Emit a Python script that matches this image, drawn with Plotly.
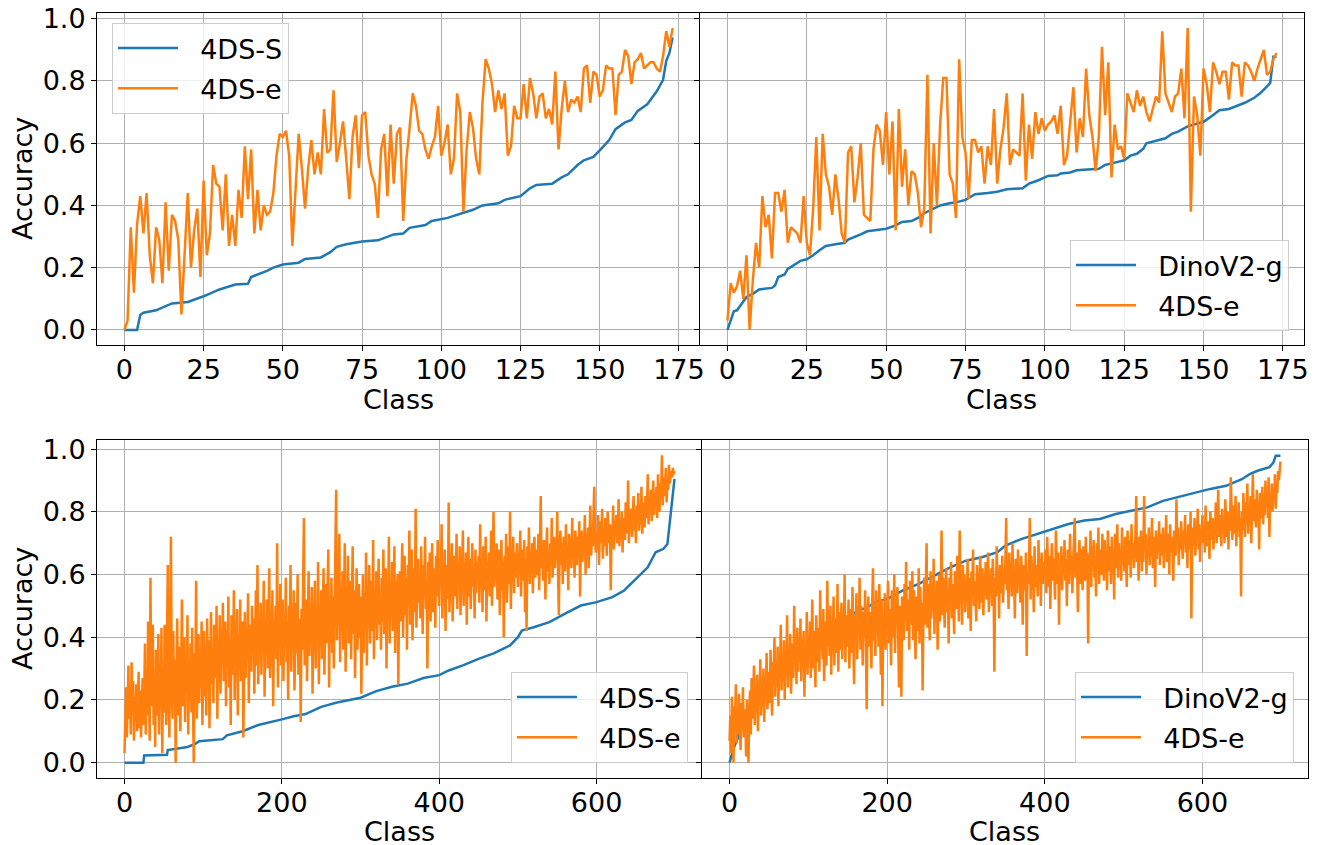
import plotly.graph_objects as go

# ---------------- data ----------------
# Top row: 174 classes (0..173)
TOP_CLASSES = list(range(174))

# Top-left: 4DS-e accuracy (classes sorted by 4DS-S)
TL_4DSE = [
    0.0, 0.03, 0.33, 0.12, 0.34, 0.43, 0.31, 0.44, 0.24, 0.15,
    0.33, 0.29, 0.15, 0.41, 0.19, 0.37, 0.35, 0.29, 0.05, 0.24,
    0.44, 0.2, 0.32, 0.39, 0.17, 0.48, 0.24, 0.31, 0.53, 0.47,
    0.46, 0.32, 0.5, 0.27, 0.37, 0.27, 0.45, 0.36, 0.59, 0.42,
    0.58, 0.31, 0.45, 0.32, 0.4, 0.37, 0.38, 0.44, 0.56, 0.63,
    0.62, 0.64, 0.56, 0.27, 0.47, 0.63, 0.52, 0.39, 0.52, 0.61,
    0.5, 0.57, 0.5, 0.71, 0.57, 0.58, 0.77, 0.54, 0.6, 0.67,
    0.55, 0.42, 0.62, 0.69, 0.52, 0.69, 0.7, 0.56, 0.5, 0.47,
    0.36, 0.58, 0.63, 0.43, 0.66, 0.47, 0.63, 0.65, 0.35, 0.55,
    0.65, 0.76, 0.72, 0.64, 0.63, 0.58, 0.55, 0.59, 0.62, 0.72,
    0.56, 0.6, 0.66, 0.5, 0.55, 0.76, 0.7, 0.38, 0.58, 0.7,
    0.65, 0.55, 0.5, 0.73, 0.87, 0.84, 0.79, 0.7, 0.77, 0.71,
    0.76, 0.56, 0.59, 0.72, 0.68, 0.68, 0.79, 0.68, 0.81, 0.76,
    0.68, 0.75, 0.76, 0.68, 0.71, 0.66, 0.83, 0.58, 0.71, 0.8,
    0.7, 0.74, 0.73, 0.75, 0.7, 0.84, 0.85, 0.73, 0.83, 0.82,
    0.75, 0.77, 0.85, 0.84, 0.84, 0.69, 0.82, 0.83, 0.9, 0.88,
    0.79, 0.86, 0.87, 0.89, 0.84, 0.85, 0.86, 0.86, 0.84, 0.83,
    0.88, 0.96, 0.91, 0.97,
]

# Top-left: 4DS-S sorted accuracy (read at selected classes)
TL_4DSS_CLASS = [0, 4, 5, 6, 10, 15, 20, 25, 30, 35, 39, 40, 45, 47, 50, 55, 57, 62, 65, 67,
                 70, 75, 80, 85, 88, 90, 95, 97, 102, 105, 110, 113, 118, 120, 125, 128, 130, 135, 138, 140,
                 143, 145, 148, 150, 153, 155, 158, 160, 162, 165, 168, 170, 171, 172, 173]
TL_4DSS_ACC = [0, 0, 0.048, 0.055, 0.063, 0.085, 0.09, 0.108, 0.13, 0.146, 0.148, 0.17, 0.19, 0.2, 0.21, 0.216, 0.228, 0.233, 0.25, 0.267,
               0.275, 0.284, 0.288, 0.307, 0.31, 0.328, 0.337, 0.35, 0.36, 0.37, 0.386, 0.4, 0.407, 0.418, 0.43, 0.455, 0.466, 0.47, 0.49, 0.5,
               0.53, 0.545, 0.556, 0.577, 0.61, 0.645, 0.667, 0.675, 0.704, 0.725, 0.767, 0.804, 0.865, 0.89, 0.94]

# Top-right: 4DS-e accuracy (classes sorted by DinoV2-g)
TR_4DSE = [
    0.03, 0.15, 0.12, 0.14, 0.19, 0.1, 0.24, 0.0, 0.16, 0.28,
    0.2, 0.43, 0.33, 0.37, 0.23, 0.44, 0.44, 0.38, 0.45, 0.28,
    0.33, 0.32, 0.31, 0.28, 0.43, 0.28, 0.24, 0.39, 0.62, 0.32,
    0.63, 0.5, 0.46, 0.37, 0.5, 0.42, 0.31, 0.28, 0.57, 0.59,
    0.41, 0.49, 0.6, 0.37, 0.36, 0.35, 0.58, 0.66, 0.64, 0.53,
    0.7, 0.5, 0.67, 0.32, 0.71, 0.46, 0.58, 0.4, 0.51, 0.5,
    0.44, 0.33, 0.39, 0.82, 0.31, 0.6, 0.4, 0.66, 0.81, 0.81,
    0.5, 0.47, 0.36, 0.87, 0.62, 0.57, 0.42, 0.61, 0.61, 0.57,
    0.59, 0.47, 0.59, 0.53, 0.71, 0.47, 0.58, 0.65, 0.76, 0.53,
    0.58, 0.57, 0.56, 0.76, 0.48, 0.66, 0.55, 0.7, 0.63, 0.68,
    0.64, 0.66, 0.67, 0.69, 0.63, 0.72, 0.53, 0.56, 0.67, 0.78,
    0.57, 0.68, 0.62, 0.84, 0.69, 0.62, 0.51, 0.62, 0.91, 0.69,
    0.86, 0.49, 0.66, 0.58, 0.59, 0.55, 0.76, 0.73, 0.7, 0.77,
    0.72, 0.75, 0.7, 0.67, 0.71, 0.75, 0.73, 0.96, 0.76, 0.73,
    0.7, 0.75, 0.76, 0.84, 0.68, 0.97, 0.38, 0.75, 0.69, 0.56,
    0.84, 0.79, 0.7, 0.86, 0.83, 0.79, 0.83, 0.83, 0.74, 0.86,
    0.85, 0.85, 0.75, 0.86, 0.85, 0.83, 0.8, 0.84, 0.87, 0.9,
    0.82, 0.83, 0.87, 0.89,
]

# Top-right: DinoV2-g sorted accuracy
TR_DINO_CLASS = [0, 2, 3, 5, 6, 8, 10, 14, 15, 16, 18, 19, 21, 23, 25, 27, 29, 31, 34, 37,
                 38, 39, 42, 44, 47, 50, 53, 55, 58, 60, 62, 64, 67, 70, 72, 75, 78, 82, 85, 88,
                 93, 95, 98, 101, 104, 105, 108, 110, 113, 117, 119, 121, 123, 125, 127, 129, 131, 132, 135, 138,
                 140, 142, 145, 147, 150, 152, 155, 158, 160, 162, 163, 166, 168, 170, 171, 172, 173]
TR_DINO_ACC = [0, 0.06, 0.063, 0.09, 0.106, 0.116, 0.13, 0.135, 0.143, 0.17, 0.178, 0.196, 0.21, 0.222, 0.227, 0.24, 0.256, 0.27, 0.275, 0.28,
               0.29, 0.294, 0.307, 0.317, 0.32, 0.325, 0.336, 0.347, 0.35, 0.36, 0.375, 0.386, 0.4, 0.407, 0.41, 0.418, 0.436, 0.44, 0.444, 0.452,
               0.455, 0.47, 0.481, 0.495, 0.497, 0.503, 0.506, 0.513, 0.516, 0.518, 0.53, 0.534, 0.54, 0.545, 0.56, 0.566, 0.582, 0.6, 0.608, 0.616,
               0.63, 0.637, 0.654, 0.661, 0.669, 0.683, 0.706, 0.71, 0.717, 0.725, 0.73, 0.746, 0.762, 0.783, 0.794, 0.878, 0.878]

# Bottom row: 700 classes (0..699)
# Bottom-left: 4DS-e accuracy (classes sorted by 4DS-S)
BL_4DSE = [
    .03, .12, .24, .08, .19, .31, .14, .22, .09, .32, .17, .26, .07, .21, .13, .25, .10, .18, .29, .11, .23, .08, .16, .27, .12,
    .20, .38, .09, .29, .15, .45, .22, .07, .59, .18, .33, .44, .12, .28, .05, .36, .24, .15, .41, .09, .31, .20, .43, .03, .27,
    .16, .44, .30, .12, .39, .63, .21, .08, .35, .72, .26, .14, .42, .19, .33, .00, .28, .46, .15, .37, .23, .10, .31, .52, .18,
    .29, .40, .13, .34, .22, .47, .09, .31, .25, .38, .16, .43, .20, .00, .35, .27, .58, .14, .30, .41, .19, .36, .24, .45, .12,
    .33, .42, .21, .37, .15, .46, .28, .39, .11, .35, .48, .25, .31, .19, .44, .36, .27, .50, .14, .38, .29, .47, .22, .40, .33,
    .51, .26, .36, .45, .18, .42, .31, .53, .24, .39, .12, .47, .34, .28, .55, .20, .43, .37, .49, .15, .41, .30, .52, .26, .38,
    .45, .08, .36, .48, .27, .41, .33, .54, .19, .44, .38, .29, .50, .35, .46, .22, .40, .55, .31, .63, .25, .43, .37, .51, .28,
    .47, .39, .58, .21, .44, .36, .52, .30, .48, .62, .27, .41, .35, .55, .18, .45, .38, .50, .33, .70, .24, .46, .40, .57, .31,
    .43, .52, .26, .48, .37, .59, .32, .45, .20, .50, .41, .63, .29, .47, .38, .55, .23, .44, .51, .35, .60, .28, .46, .40, .13,
    .49, .36, .57, .78, .31, .45, .52, .26, .42, .61, .34, .48, .39, .56, .22, .47, .43, .58, .30, .51, .37, .64, .25, .46, .41,
    .55, .33, .49, .62, .28, .44, .57, .38, .52, .68, .24, .47, .41, .59, .35, .53, .30, .46, .63, .87, .39, .50, .44, .73, .32,
    .56, .42, .61, .36, .48, .70, .29, .54, .45, .66, .38, .51, .58, .33, .47, .69, .41, .55, .27, .50, .62, .36, .49, .57, .40,
    .53, .22, .46, .60, .35, .52, .44, .67, .31, .55, .48, .63, .38, .50, .58, .42, .71, .33, .54, .47, .61, .39, .56, .65, .44,
    .50, .36, .59, .45, .68, .41, .53, .62, .30, .57, .49, .72, .38, .55, .46, .64, .42, .51, .69, .35, .58, .48, .60, .25, .54,
    .61, .45, .56, .70, .40, .52, .66, .47, .59, .36, .63, .50, .74, .44, .57, .68, .39, .55, .62, .48, .81, .43, .58, .65, .51,
    .60, .46, .69, .54, .41, .63, .57, .72, .49, .55, .30, .64, .52, .67, .45, .59, .70, .48, .56, .62, .43, .66, .53, .71, .58,
    .50, .65, .57, .76, .46, .61, .54, .68, .42, .59, .63, .52, .83, .48, .60, .56, .70, .45, .62, .66, .53, .58, .73, .49, .64,
    .55, .69, .47, .61, .58, .74, .50, .63, .57, .67, .44, .60, .72, .53, .65, .49, .59, .70, .56, .62, .46, .68, .54, .64, .58,
    .66, .51, .76, .57, .63, .48, .69, .60, .55, .72, .45, .64, .58, .67, .53, .61, .74, .50, .62, .80, .56, .65, .59, .70, .52,
    .63, .68, .47, .60, .71, .55, .64, .40, .66, .58, .73, .51, .62, .69, .57, .80, .49, .65, .61, .72, .54, .67, .59, .63, .70,
    .56, .66, .60, .74, .53, .68, .62, .58, .71, .48, .65, .42, .69, .61, .75, .57, .66, .63, .70, .54, .67, .72, .59, .64, .68,
    .60, .73, .55, .66, .85, .62, .69, .58, .71, .64, .52, .68, .75, .61, .66, .57, .70, .63, .78, .59, .67, .72, .62, .69, .65,
    .80, .60, .47, .68, .74, .63, .70, .57, .72, .66, .61, .76, .64, .69, .55, .73, .67, .71, .62, .78, .65, .70, .59, .74, .68,
    .63, .72, .66, .77, .53, .69, .74, .64, .71, .67, .79, .60, .73, .68, .75, .62, .70, .82, .66, .72, .69, .76, .88, .71, .67,
    .74, .68, .79, .63, .72, .77, .70, .81, .65, .74, .69, .78, .72, .66, .80, .73, .70, .76, .55, .75, .71, .82, .68, .77, .73,
    .79, .70, .75, .84, .69, .76, .72, .80, .67, .78, .74, .71, .83, .76, .73, .90, .70, .79, .75, .81, .72, .78, .85, .74, .80,
    .70, .82, .77, .86, .74, .80, .76, .88, .73, .83, .79, .75, .85, .78, .81, .92, .76, .84, .80, .87, .77, .83, .90, .79, .85,
    .81, .88, .78, .92, .84, .80, .89, .86, .98, .82, .91, .85, .88, .94, .83, .90, .87, .95, .89, .92, .93, .91, .94, .92, .93,
]

# Bottom-left: 4DS-S sorted accuracy
BL_4DSS_CLASS = [0, 24, 25, 54, 55, 80, 90, 95, 125, 130, 150, 170, 200, 215, 230, 250, 270, 300, 320, 340,
                 360, 380, 400, 412, 430, 450, 470, 490, 500, 505, 520, 540, 560, 580, 600, 620, 635, 650, 665, 675,
                 685, 690, 693, 696, 699]
BL_4DSS_ACC = [0, 0, 0.023, 0.025, 0.04, 0.05, 0.06, 0.068, 0.075, 0.087, 0.1, 0.12, 0.138, 0.148, 0.155, 0.178, 0.192, 0.207, 0.228, 0.242,
               0.252, 0.27, 0.279, 0.294, 0.31, 0.331, 0.349, 0.374, 0.4, 0.421, 0.432, 0.448, 0.475, 0.501, 0.512, 0.528, 0.549, 0.586, 0.623, 0.671,
               0.682, 0.697, 0.77, 0.83, 0.905]

# Bottom-right: 4DS-e accuracy (classes sorted by DinoV2-g)
BR_4DSE = [
    .07, .15, .03, .21, .10, .00, .18, .12, .25, .06, .16, .09, .22, .13, .04, .19, .11, .24, .08, .17, .14, .02, .20, .10, .00,
    .16, .23, .09, .27, .14, .19, .31, .12, .22, .17, .28, .10, .25, .20, .33, .15, .24, .18, .30, .13, .26, .21, .35, .17, .23,
    .29, .19, .36, .24, .15, .32, .27, .40, .21, .30, .25, .37, .18, .33, .28, .44, .23, .31, .26, .39, .20, .34, .29, .47, .24,
    .36, .30, .41, .22, .33, .38, .27, .50, .31, .35, .25, .43, .29, .37, .32, .46, .26, .39, .34, .42, .21, .36, .31, .48, .28,
    .40, .33, .45, .27, .37, .52, .30, .42, .35, .24, .47, .32, .38, .43, .29, .55, .36, .41, .33, .49, .26, .39, .45, .31, .58,
    .37, .44, .34, .50, .28, .42, .38, .53, .31, .46, .40, .35, .57, .29, .43, .48, .36, .51, .33, .45, .39, .60, .32, .47, .41,
    .37, .52, .30, .44, .49, .35, .56, .41, .25, .47, .39, .54, .33, .46, .42, .59, .36, .50, .44, .31, .48, .40, .55, .38, .17,
    .45, .53, .37, .48, .42, .30, .51, .62, .39, .46, .34, .55, .43, .49, .37, .57, .44, .28, .52, .18, .47, .41, .54, .36, .50,
    .45, .58, .38, .49, .43, .31, .55, .47, .40, .60, .35, .51, .46, .56, .41, .24, .50, .44, .21, .53, .48, .39, .57, .45, .64,
    .42, .52, .47, .36, .58, .44, .50, .61, .39, .55, .46, .33, .53, .49, .42, .62, .38, .56, .47, .51, .23, .48, .59, .44, .54,
    .70, .43, .57, .50, .39, .61, .46, .53, .49, .65, .41, .55, .48, .58, .36, .52, .60, .45, .54, .74, .47, .59, .51, .43, .56,
    .62, .48, .55, .38, .59, .52, .64, .46, .57, .50, .41, .61, .54, .49, .66, .53, .45, .74, .51, .58, .44, .63, .55, .60, .48,
    .57, .52, .65, .46, .59, .54, .42, .61, .56, .68, .50, .58, .53, .45, .63, .57, .60, .49, .66, .55, .51, .62, .47, .59, .56,
    .64, .52, .58, .67, .48, .60, .55, .62, .50, .65, .57, .29, .59, .53, .69, .56, .61, .46, .63, .58, .54, .66, .51, .60, .57,
    .64, .78, .55, .61, .49, .67, .58, .63, .53, .70, .56, .60, .46, .65, .59, .54, .68, .57, .62, .51, .66, .60, .44, .63, .58,
    .55, .67, .34, .61, .57, .64, .78, .52, .66, .59, .62, .48, .69, .56, .63, .60, .53, .71, .58, .65, .50, .67, .61, .57, .64,
    .59, .68, .54, .72, .61, .56, .66, .49, .63, .70, .58, .65, .60, .52, .74, .62, .57, .67, .44, .64, .61, .69, .55, .66, .60,
    .71, .58, .65, .50, .68, .62, .57, .73, .60, .66, .54, .64, .70, .78, .59, .67, .62, .48, .65, .71, .57, .68, .63, .55, .69,
    .64, .58, .72, .61, .67, .38, .66, .60, .74, .56, .69, .63, .71, .59, .65, .53, .70, .62, .75, .57, .68, .64, .60, .73, .66,
    .58, .71, .63, .67, .55, .74, .61, .69, .65, .57, .72, .64, .68, .52, .73, .66, .62, .76, .59, .70, .64, .67, .58, .75, .63,
    .69, .61, .72, .66, .56, .74, .68, .63, .71, .59, .76, .65, .70, .62, .67, .73, .85, .64, .69, .58, .72, .66, .74, .61, .70,
    .64, .85, .68, .73, .60, .71, .67, .75, .63, .70, .66, .78, .62, .72, .69, .56, .74, .65, .71, .67, .77, .63, .73, .69, .66,
    .75, .62, .71, .68, .79, .64, .73, .70, .60, .76, .67, .72, .69, .58, .74, .71, .66, .84, .70, .75, .63, .72, .68, .77, .71,
    .65, .74, .70, .79, .67, .73, .62, .76, .71, .68, .80, .46, .72, .75, .69, .78, .66, .73, .71, .81, .68, .76, .64, .74, .72,
    .79, .70, .75, .67, .82, .73, .69, .77, .72, .65, .80, .74, .71, .78, .68, .76, .73, .83, .70, .75, .87, .72, .79, .74, .69,
    .81, .73, .77, .70, .84, .75, .72, .80, .68, .78, .74, .91, .76, .71, .82, .77, .73, .85, .69, .79, .75, .83, .72, .78, .53,
    .80, .74, .86, .77, .72, .83, .76, .89, .73, .81, .78, .85, .70, .82, .92, .77, .84, .79, .75, .87, .80, .83, .68, .86, .78,
    .81, .88, .76, .84, .79, .90, .82, .86, .78, .91, .72, .85, .83, .89, .80, .87, .84, .92, .81, .88, .86, .93, .90, .95, .96,
]

# Bottom-right: DinoV2-g sorted accuracy
BR_DINO_CLASS = [0, 5, 20, 40, 60, 80, 100, 120, 140, 160, 175, 185, 200, 220, 240, 260, 280, 300, 320, 340,
                 350, 370, 390, 410, 430, 450, 470, 490, 510, 530, 550, 570, 590, 610, 630, 650, 660, 670, 685, 690,
                 693, 699]
BR_DINO_ACC = [0, 0.045, 0.135, 0.193, 0.273, 0.32, 0.384, 0.421, 0.443, 0.48, 0.496, 0.512, 0.522, 0.549, 0.57, 0.597, 0.623, 0.644, 0.655, 0.671,
               0.692, 0.713, 0.729, 0.745, 0.761, 0.772, 0.777, 0.793, 0.804, 0.814, 0.835, 0.848, 0.862, 0.873, 0.883, 0.904, 0.92, 0.931, 0.942, 0.957,
               0.979, 0.979]

TOP_XTICKS = [0, 25, 50, 75, 100, 125, 150, 175]
BOT_XTICKS = [0, 200, 400, 600]
Y_TICKS = [0.0, 0.2, 0.4, 0.6, 0.8, 1.0]
Y_TICKTEXT = ["0.0", "0.2", "0.4", "0.6", "0.8", "1.0"]

# ---------------- figure ----------------
W, H = 1317, 845
OFF = 8  # page body margin of the browser
BLUE, ORANGE = "#1f77b4", "#ff7f0e"
FONT = "DejaVu Sans"
FS = 27
LW = 2.5
NB = "\u00a0\u00a0"  # gap between legend line sample and label


def px(xp):
    return (xp - OFF) / W


def py(yp):
    return 1 - (yp - OFF) / H


def dx(a, b):
    return [px(a), px(b)]


def dy(top, bottom):
    return [py(bottom), py(top)]


fig = go.Figure()


def add(xs, ys, name, color, n, leg):
    fig.add_trace(go.Scatter(
        x=xs, y=ys, mode="lines", name=NB + name,
        line=dict(color=color, width=LW),
        xaxis="x" if n == 1 else f"x{n}", yaxis="y" if n == 1 else f"y{n}",
        legend=leg, legendgroup=f"{leg}_{name}", showlegend=True,
    ))


add(TL_4DSS_CLASS, TL_4DSS_ACC, "4DS-S", BLUE, 1, "legend")
add(TOP_CLASSES, TL_4DSE, "4DS-e", ORANGE, 1, "legend")
add(TR_DINO_CLASS, TR_DINO_ACC, "DinoV2-g", BLUE, 2, "legend2")
add(TOP_CLASSES, TR_4DSE, "4DS-e", ORANGE, 2, "legend2")
add(BL_4DSS_CLASS, BL_4DSS_ACC, "4DS-S", BLUE, 3, "legend3")
add(list(range(len(BL_4DSE))), BL_4DSE, "4DS-e", ORANGE, 3, "legend3")
add(BR_DINO_CLASS, BR_DINO_ACC, "DinoV2-g", BLUE, 4, "legend4")
add(list(range(len(BR_4DSE))), BR_4DSE, "4DS-e", ORANGE, 4, "legend4")

axis_common = dict(
    showline=True, linecolor="black", linewidth=1,
    ticks="outside", ticklen=5, tickwidth=1, tickcolor="black",
    showgrid=True, gridcolor="#b0b0b0", gridwidth=1, zeroline=False,
    tickfont=dict(family=FONT, size=FS, color="black"), automargin=False,
    ticklabeloverflow="allow",
)
title_font = dict(family=FONT, size=FS, color="black")

top_xr = [-8.65, 181.65]
bot_xr = [-34.95, 733.95]
top_yr = [-0.0485, 1.0185]
bot_yr = [-0.049, 1.029]

layout_axes = {}
annotations = []
panels = [
    (1, (97, 700), (13, 345), top_xr, top_yr, TOP_XTICKS, True, 399),
    (2, (700, 1304), (13, 345), top_xr, top_yr, TOP_XTICKS, False, 399),
    (3, (97, 702), (440, 778), bot_xr, bot_yr, BOT_XTICKS, True, 831),
    (4, (702, 1308), (440, 778), bot_xr, bot_yr, BOT_XTICKS, False, 831),
]
for n, xs_px, ys_px, xr, yr, xt, left, title_y in panels:
    xk = "xaxis" if n == 1 else f"xaxis{n}"
    yk = "yaxis" if n == 1 else f"yaxis{n}"
    xid = "x" if n == 1 else f"x{n}"
    yid = "y" if n == 1 else f"y{n}"
    layout_axes[xk] = dict(axis_common, domain=dx(*xs_px), range=xr, anchor=yid,
                           mirror=True, tickmode="array", tickvals=xt,
                           ticklabelstandoff=-4)
    layout_axes[yk] = dict(axis_common, domain=dy(*ys_px), range=yr, anchor=xid,
                           mirror=not left, tickmode="array", tickvals=Y_TICKS,
                           ticktext=Y_TICKTEXT, showticklabels=left)
    annotations.append(dict(
        text="Class", xref="paper", yref="paper",
        x=px((xs_px[0] + xs_px[1]) / 2), y=py(title_y),
        xanchor="center", yanchor="middle", showarrow=False, font=title_font,
    ))
    if left:
        annotations.append(dict(
            text="Accuracy", xref="paper", yref="paper", textangle=-90,
            x=px(22), y=py((ys_px[0] + ys_px[1]) / 2),
            xanchor="center", yanchor="middle", showarrow=False, font=title_font,
        ))

legend_common = dict(
    font=dict(family=FONT, size=FS, color="black"),
    bgcolor="rgba(255,255,255,0.8)", bordercolor="#cccccc", borderwidth=1,
    traceorder="grouped", tracegroupgap=2, itemwidth=60,
)

fig.update_layout(
    width=W, height=H,
    margin=dict(l=0, r=0, t=0, b=0, pad=0, autoexpand=False),
    paper_bgcolor="white", plot_bgcolor="white",
    font=dict(family=FONT, size=FS, color="black"),
    legend=dict(legend_common, x=px(112), y=py(23), xanchor="left", yanchor="top"),
    legend2=dict(legend_common, x=px(1289), y=py(331), xanchor="right", yanchor="bottom"),
    legend3=dict(legend_common, x=px(688), y=py(763), xanchor="right", yanchor="bottom"),
    legend4=dict(legend_common, x=px(1294), y=py(763), xanchor="right", yanchor="bottom"),
    annotations=annotations,
    **layout_axes,
)

fig.write_html("out.html")
